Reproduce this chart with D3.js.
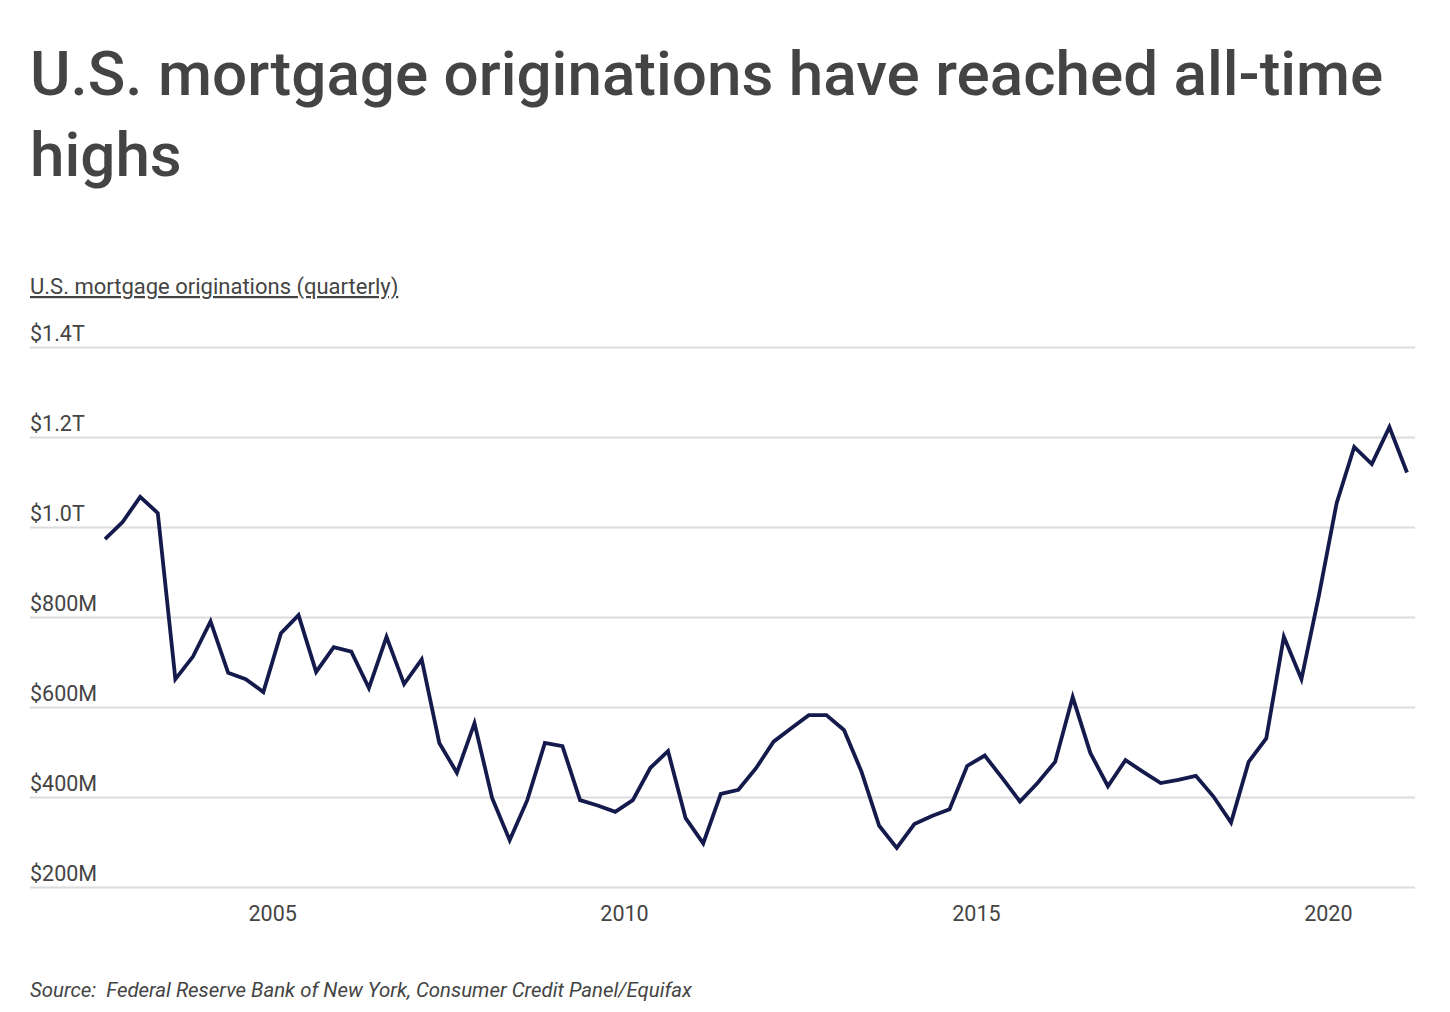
<!DOCTYPE html>
<html lang="en">
<head>
  <meta charset="UTF-8"/>
  <title>U.S. mortgage originations</title>
  <script src="https://d3js.org/d3.v7.min.js"></script>
  <style>
body {
  margin: 0;
  background: #fff;
  font-family: 'Roboto', sans-serif;
}
svg {
  display: block;
}
text.title {
  font-size: 62px;
  font-weight: 500;
  fill: #444;
}
text.subtitle {
  font-size: 22px;
  fill: #444;
  text-decoration: underline;
}
.grid .tick line {
  stroke: #dcdcdc;
  stroke-width: 2;
}
.grid .tick text, .xaxis .tick text {
  font-size: 21.5px;
  fill: #444;
  font-family: 'Roboto', sans-serif;
}
.grid path, .xaxis path {
  display: none;
}
path.line {
  fill: none;
  stroke: #141a4b;
  stroke-width: 3.8;
  stroke-linejoin: miter;
}
text.source {
  font-size: 20.4px;
  font-style: italic;
  fill: #444;
}
  </style>
</head>
<body>
<svg width="1450" height="1012"></svg>
<script>

// quarterly originations, in billions ($M as labelled on the chart)
const startYear = 2002.625;
const originations = [
  973, 1011, 1067, 1031, 662, 712, 790, 676, 662, 633,
  764, 804, 678, 733, 723, 642, 756, 651, 706, 520,
  454, 564, 398, 304, 393, 520, 513, 393, 381, 367,
  393, 465, 502, 353, 297, 407, 416, 464, 523, 553,
  582, 582, 549, 456, 336, 287, 340, 358, 373, 469,
  492, 442, 390, 431, 478, 622, 498, 424, 482, 456,
  431, 438, 447, 401, 343, 478, 530, 756, 662, 849,
  1053, 1178, 1140, 1222, 1121
];

const yTickValues = [200, 400, 600, 800, 1000, 1200, 1400];
const yTickLabels = ['$200M', '$400M', '$600M', '$800M', '$1.0T', '$1.2T', '$1.4T'];
const xTickValues = [2005, 2010, 2015, 2020];

const svg = d3.select('svg');

const left = 30;
const right = 1415;

const xScale = d3.scaleLinear()
  .domain([startYear, startYear + (originations.length - 1) * 0.25])
  .range([105, 1407]);

const yScale = d3.scaleLinear()
  .domain([200, 1400])
  .range([887, 347]);

// title
svg.append('text')
  .attr('class', 'title')
  .attr('x', left)
  .attr('y', 95)
  .text('U.S. mortgage originations have reached all-time');

svg.append('text')
  .attr('class', 'title')
  .attr('x', left)
  .attr('y', 176)
  .text('highs');

svg.append('text')
  .attr('class', 'subtitle')
  .attr('x', left)
  .attr('y', 294)
  .text('U.S. mortgage originations (quarterly)');

// horizontal grid + labels above each line
const grid = svg.append('g')
  .attr('class', 'grid')
  .attr('transform', `translate(${left}, 0)`)
  .call(d3.axisRight(yScale)
    .tickValues(yTickValues)
    .tickSize(right - left)
    .tickFormat((d, i) => yTickLabels[i]));

grid.selectAll('.tick text')
  .attr('x', 0)
  .attr('dy', -7)
  .attr('text-anchor', 'start');

// x axis labels
svg.append('g')
  .attr('class', 'xaxis')
  .attr('transform', 'translate(0, 887)')
  .call(d3.axisBottom(xScale)
    .tickValues(xTickValues)
    .tickSize(0)
    .tickPadding(19)
    .tickFormat(d3.format('d')));

// the line
const line = d3.line()
  .x((d, i) => xScale(startYear + i * 0.25))
  .y((d) => yScale(d));

svg.append('path')
  .datum(originations)
  .attr('class', 'line')
  .attr('d', line);

svg.append('text')
  .attr('class', 'source')
  .attr('x', left)
  .attr('y', 997)
  .attr('xml:space', 'preserve')
  .text('Source:  Federal Reserve Bank of New York, Consumer Credit Panel/Equifax');

</script>
</body>
</html>
